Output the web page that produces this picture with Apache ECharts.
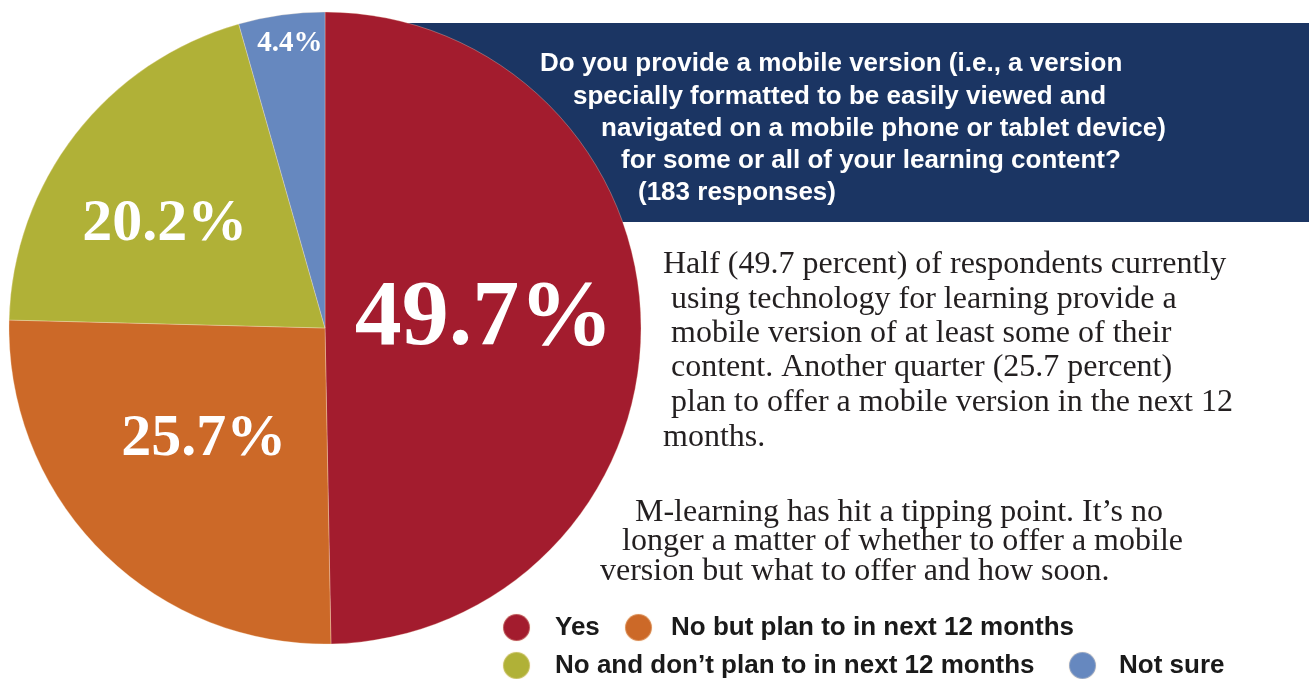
<!DOCTYPE html>
<html>
<head>
<meta charset="utf-8">
<title>Mobile version of learning content</title>
<script src="https://cdn.jsdelivr.net/npm/echarts@6/dist/echarts.min.js"></script>
<style>
  html, body { margin: 0; padding: 0; background: #ffffff; }
  #chart { width: 1316px; height: 679px; }
</style>
</head>
<body>
<div id="chart"></div>
<script>
// Survey answers and their shares (percent of 183 responses)
const categories = [
  'Yes',
  'No but plan to in next 12 months',
  'No and don\u2019t plan to in next 12 months',
  'Not sure'
];
const shares = [49.7, 25.7, 20.2, 4.4];
const sliceColors = ['#A31C2E', '#CC6928', '#B0B137', '#6688BF'];

// Question shown in the banner, one entry per line
const questionLines = [
  'Do you provide a mobile version (i.e., a version',
  'specially formatted to be easily viewed and',
  'navigated on a mobile phone or tablet device)',
  'for some or all of your learning content?',
  '(183 responses)'
];

// Commentary paragraphs, one entry per line
const noteLines1 = [
  'Half (49.7 percent) of respondents currently',
  ' using technology for learning provide a',
  ' mobile version of at least some of their',
  ' content. Another quarter (25.7 percent)',
  ' plan to offer a mobile version in the next 12',
  'months.'
];
const noteLines2 = [
  'M-learning has hit a tipping point. It\u2019s no',
  'longer a matter of whether to offer a mobile',
  'version but what to offer and how soon.'
];

// Layout of text lines (left edge, vertical middle)
const questionPos = [[540, 64], [573, 97], [601, 129], [621, 161], [638, 193]];
const note1Pos = [[663, 265], [663, 300], [663, 334], [663, 368], [663, 403], [663, 438]];
const note2Pos = [[635, 513], [622, 542], [600, 572]];

// Label styling per slice
const labelStyles = [
  { fontSize: 94, offset: [-2, -7] },
  { fontSize: 60, offset: [-7, -2] },
  { fontSize: 60, offset: [-33, -5] },
  { fontSize: 29, offset: [-13, -125] }
];

// Legend placement: left, top, gap between marker and text
const legendPos = [[502, 613, 20], [624, 613, 14], [502, 651, 20], [1068, 651, 18]];

const chart = echarts.init(document.getElementById('chart'), null, { renderer: 'canvas' });

const pieData = categories.map((name, i) => ({
  name: name,
  value: shares[i],
  itemStyle: { color: sliceColors[i] },
  label: {
    fontSize: labelStyles[i].fontSize,
    offset: labelStyles[i].offset
  }
}));

const graphics = [
  {
    type: 'rect',
    z: 0,
    shape: { x: 330, y: 23, width: 979, height: 199 },
    style: { fill: '#1B3563' },
    silent: true
  }
];
questionLines.forEach((t, i) => {
  graphics.push({
    type: 'text',
    z: 5,
    x: questionPos[i][0],
    y: questionPos[i][1],
    style: {
      text: t,
      fill: '#ffffff',
      font: 'bold 26px "Liberation Sans", Arial, sans-serif',
      textVerticalAlign: 'middle'
    },
    silent: true
  });
});
const noteFont = '32px "Liberation Serif", "Times New Roman", serif';
noteLines1.forEach((t, i) => {
  graphics.push({
    type: 'text',
    z: 5,
    x: note1Pos[i][0],
    y: note1Pos[i][1],
    style: { text: t, fill: '#231F20', font: noteFont, textVerticalAlign: 'middle' },
    silent: true
  });
});
noteLines2.forEach((t, i) => {
  graphics.push({
    type: 'text',
    z: 5,
    x: note2Pos[i][0],
    y: note2Pos[i][1],
    style: { text: t, fill: '#231F20', font: noteFont, textVerticalAlign: 'middle' },
    silent: true
  });
});

const legends = categories.map((name, i) => ({
  data: [name],
  left: legendPos[i][0],
  top: legendPos[i][1],
  orient: 'horizontal',
  icon: 'circle',
  itemWidth: 27,
  itemHeight: 27,
  padding: 0,
  selectedMode: false,
  textStyle: {
    fontFamily: '"Liberation Sans", Arial, sans-serif',
    fontWeight: 'bold',
    fontSize: 26,
    color: '#1A1A1A',
    padding: [0, 0, 0, legendPos[i][2]]
  }
}));

chart.setOption({
  animation: false,
  backgroundColor: '#ffffff',
  legend: legends,
  graphic: graphics,
  series: [{
    type: 'pie',
    z: 2,
    center: [325, 328],
    radius: [0, 316],
    startAngle: 90,
    clockwise: true,
    avoidLabelOverlap: false,
    itemStyle: {
      borderColor: 'rgba(255, 236, 210, 0.3)',
      borderWidth: 1
    },
    label: {
      show: true,
      position: 'inside',
      formatter: '{c}%',
      color: '#ffffff',
      fontFamily: '"Liberation Serif", "Times New Roman", serif',
      fontWeight: 'bold'
    },
    labelLine: { show: false },
    emphasis: { disabled: true },
    data: pieData
  }]
});
</script>
</body>
</html>
